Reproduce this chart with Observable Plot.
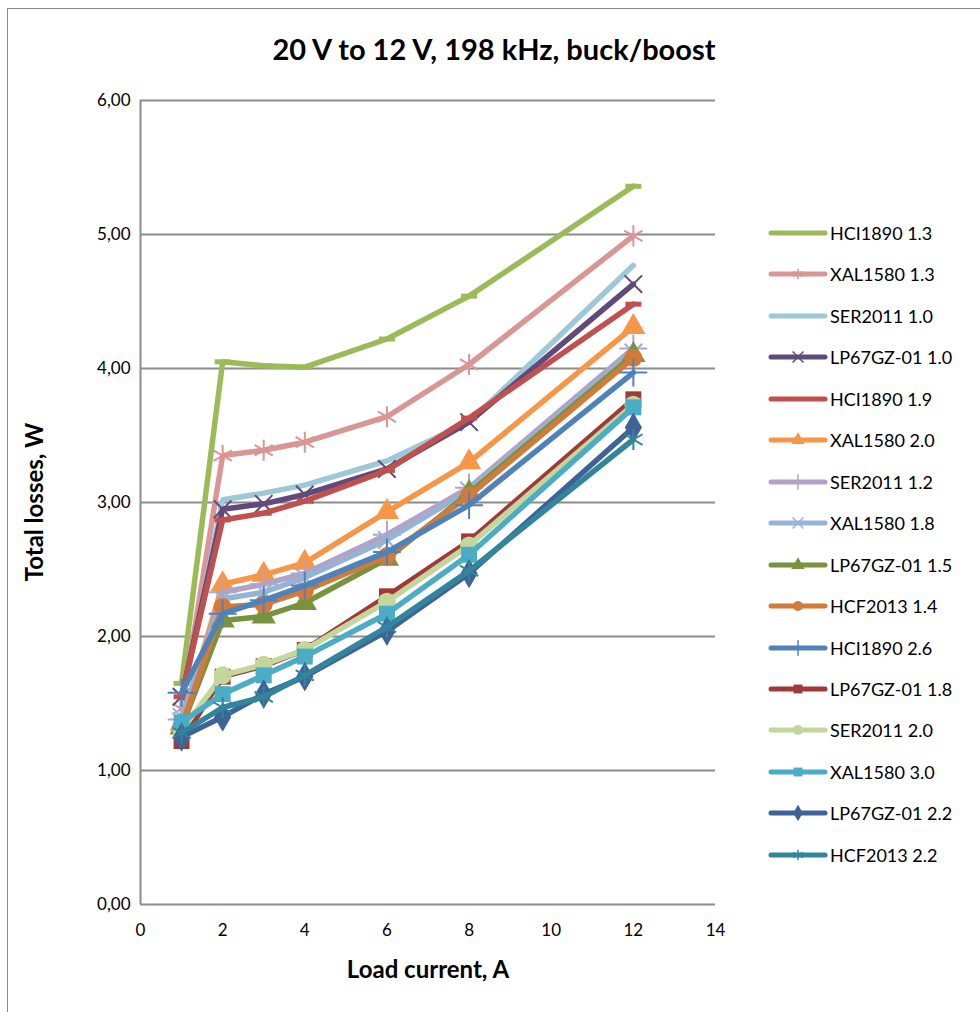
<!DOCTYPE html>
<html><head><meta charset="utf-8">
<script src="https://cdn.jsdelivr.net/npm/d3@7"></script>
<script src="https://cdn.jsdelivr.net/npm/@observablehq/plot@0.6"></script>
<style>
body{margin:0;background:#fff;font-family:Lato,"Open Sans",sans-serif;}
#wrap{position:relative;width:980px;height:1012px;overflow:hidden;background:#fff}
#frame{position:absolute;left:7px;top:8px;width:990px;height:1020px;border-left:1.5px solid #888;border-top:1.5px solid #888;pointer-events:none}
#title{height:70px;font-weight:bold;font-size:29px;line-height:29px;color:#000}
#title span{position:absolute;left:494px;top:34px;transform:translateX(-50%);white-space:nowrap}
#ylab{position:absolute;left:33px;top:502px;transform:translate(-50%,-50%) rotate(-90deg);font-weight:bold;font-size:24px;white-space:nowrap}
#xlab{position:absolute;left:428px;top:968px;transform:translate(-50%,-50%);font-weight:bold;font-size:24px;white-space:nowrap}
#legend{position:absolute;left:768px;top:213px}
.li{position:absolute;left:0;height:40px;display:flex;align-items:center;font-size:18px;white-space:nowrap}
.li svg{margin-right:2px}
#chart{position:absolute;left:0;top:70px}
</style></head><body>
<div id="wrap">
<div id="title"><span>20 V to 12 V, 198 kHz, buck/boost</span></div>
<div id="chart"></div>
<div id="ylab">Total losses, W</div>
<div id="xlab">Load current, A</div>
<div id="legend"></div>
<div id="frame"></div>
</div>
<script>
// ---- data ----
const loadCurrent = [1, 2, 3, 4, 6, 8, 12];
const seriesNames = ["HCI1890 1.3","XAL1580 1.3","SER2011 1.0","LP67GZ-01 1.0","HCI1890 1.9","XAL1580 2.0","SER2011 1.2","XAL1580 1.8","LP67GZ-01 1.5","HCF2013 1.4","HCI1890 2.6","LP67GZ-01 1.8","SER2011 2.0","XAL1580 3.0","LP67GZ-01 2.2","HCF2013 2.2"];
const hci1890_13 = [1.65, 4.05, 4.02, 4.01, 4.22, 4.54, 5.36];
const xal1580_13 = [1.46, 3.35, 3.39, 3.45, 3.64, 4.03, 4.99];
const ser2011_10 = [1.50, 3.02, 3.07, 3.13, 3.31, 3.60, 4.77];
const lp67gz_10 = [1.55, 2.95, 2.99, 3.06, 3.25, 3.60, 4.63];
const hci1890_19 = [1.55, 2.87, 2.92, 3.01, 3.24, 3.63, 4.48];
const xal1580_20 = [1.35, 2.39, 2.46, 2.55, 2.93, 3.30, 4.31];
const ser2011_12 = [1.38, 2.33, 2.39, 2.47, 2.76, 3.11, 4.15];
const xal1580_18 = [1.40, 2.28, 2.33, 2.44, 2.72, 3.09, 4.12];
const lp67gz_15 = [1.32, 2.12, 2.15, 2.25, 2.58, 3.07, 4.10];
const hcf2013_14 = [1.33, 2.22, 2.24, 2.34, 2.60, 3.05, 4.08];
const hci1890_26 = [1.58, 2.17, 2.27, 2.38, 2.63, 2.98, 3.97];
const lp67gz_18 = [1.22, 1.70, 1.78, 1.90, 2.30, 2.71, 3.77];
const ser2011_20 = [1.30, 1.71, 1.79, 1.90, 2.26, 2.68, 3.73];
const xal1580_30 = [1.36, 1.57, 1.71, 1.85, 2.17, 2.61, 3.71];
const lp67gz_22 = [1.25, 1.40, 1.57, 1.70, 2.04, 2.47, 3.56];
const hcf2013_22 = [1.28, 1.47, 1.55, 1.71, 2.07, 2.49, 3.47];
const seriesValues = [hci1890_13, xal1580_13, ser2011_10, lp67gz_10, hci1890_19, xal1580_20, ser2011_12, xal1580_18, lp67gz_15, hcf2013_14, hci1890_26, lp67gz_18, ser2011_20, xal1580_30, lp67gz_22, hcf2013_22];
const seriesColors = ["#9BBB59","#D99694","#9DC8D8","#604A7B","#C0504D","#F79646","#B3A2C7","#95B3D7","#77933C","#D27A38","#4F81BD","#9E3B39","#C3D69B","#4BACC6","#3D6397","#31859C"];
const seriesMarkers = ["dash","asterisk","none","times","dash","triangle","plus","times","triangle","circle","plus","square","circle","square","diamond","asterisk"];
const yTicks = [0, 1, 2, 3, 4, 5, 6];
const xTicks = [0, 2, 4, 6, 8, 10, 12, 14];

// ---- build table ----
const rows = [];
seriesNames.forEach((name, i) => {
  seriesValues[i].forEach((v, j) => rows.push({series: name, order: i, x: loadCurrent[j], y: v}));
});

const dashSymbol = {draw(ctx, size){ const w = Math.sqrt(size) * 0.9, h = 2.5; ctx.moveTo(-w,-h); ctx.lineTo(w,-h); ctx.lineTo(w,h); ctx.lineTo(-w,h); ctx.closePath(); }};
const symbolFor = m => ({dash: dashSymbol, asterisk: "asterisk", times: "times", triangle: "triangle", plus: "plus", circle: "circle", square: "square", diamond: "diamond"})[m];
const strokeOnly = new Set(["asterisk","times","plus"]);
const markerSize = {dash: 5, asterisk: 10, times: 8, triangle: 9, plus: 9, circle: 9, square: 9, diamond: 9};

const fmt = d => d.toFixed(2).replace(".", ",");

const marks = [
  Plot.ruleY(yTicks, {stroke: "#8c8c8c", strokeWidth: 2}),
  Plot.ruleX([0], {stroke: "#8c8c8c", strokeWidth: 2}),
  Plot.axisY(yTicks, {tickSize: 0, tickPadding: 10, tickFormat: fmt, fontSize: 17, label: null}),
  Plot.axisX(xTicks, {tickSize: 0, tickPadding: 19, fontSize: 17, label: null})
];
seriesNames.forEach((name, i) => {
  const data = rows.filter(r => r.series === name);
  const c = seriesColors[i];
  marks.push(Plot.line(data, {x: "x", y: "y", stroke: c, strokeWidth: 5.5, strokeLinejoin: "miter"}));
  const m = seriesMarkers[i];
  if (m !== "none") {
    const so = strokeOnly.has(m);
    marks.push(Plot.dot(data, {x: "x", y: "y", symbol: symbolFor(m), r: markerSize[m],
      fill: so ? "none" : c, stroke: c, strokeWidth: so ? 2 : 0}));
  }
});

const chart = Plot.plot({
  width: 980, height: 942,
  marginLeft: 140, marginRight: 265, marginTop: 30, marginBottom: 108,
  style: {fontFamily: "Lato, 'Open Sans', sans-serif", fontSize: "17px", color: "#000", background: "transparent", overflow: "visible"},
  x: {domain: [0, 14]},
  y: {domain: [0, 6]},
  marks
});
document.getElementById("chart").appendChild(chart);

// ---- legend ----
const legend = d3.select("#legend");
seriesNames.forEach((name, i) => {
  const item = legend.append("div").attr("class", "li").style("top", (i * 41.45) + "px");
  const svg = item.append("svg").attr("width", 60).attr("height", 20);
  const c = seriesColors[i];
  svg.append("line").attr("x1", 3).attr("x2", 57).attr("y1", 10).attr("y2", 10)
    .attr("stroke", c).attr("stroke-width", 5).attr("stroke-linecap", "round");
  const m = seriesMarkers[i];
  if (m !== "none" && m !== "dash") {
    const so = strokeOnly.has(m);
    const typ = {asterisk: d3.symbolAsterisk, times: d3.symbolTimes, triangle: d3.symbolTriangle, plus: d3.symbolPlus, circle: d3.symbolCircle, square: d3.symbolSquare, diamond: d3.symbolDiamond}[m];
    const r = 5;
    svg.append("path").attr("transform", "translate(30,10)")
      .attr("d", d3.symbol(typ, Math.PI * r * r)())
      .attr("fill", so ? "none" : c).attr("stroke", c).attr("stroke-width", so ? 1.5 : 0);
  }
  item.append("span").text(name);
});
</script>
</body></html>
